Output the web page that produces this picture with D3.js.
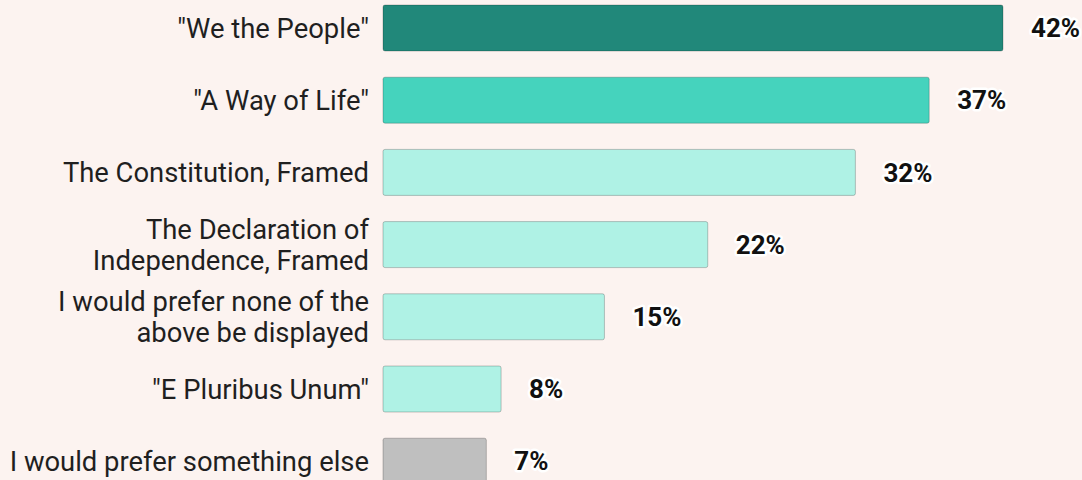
<!DOCTYPE html>
<html>
<head>
<meta charset="utf-8">
<script src="https://cdn.jsdelivr.net/npm/d3@7"></script>
<style>
  html, body { margin: 0; padding: 0; background: #fcf3f0; }
  svg { display: block; font-family: Roboto, sans-serif; }
  .label { fill: #1f1f1f; font-size: 27.4px; }
  .value { fill: #111; font-size: 26px; font-weight: bold; stroke: #fff; stroke-width: 5px; paint-order: stroke; stroke-linejoin: round; }
</style>
</head>
<body>
<svg width="1082" height="480"></svg>
<script>
const CATEGORIES = [
  ['"We the People"'],
  ['"A Way of Life"'],
  ['The Constitution, Framed'],
  ['The Declaration of', 'Independence, Framed'],
  ['I would prefer none of the', 'above be displayed'],
  ['"E Pluribus Unum"'],
  ['I would prefer something else']
]
const VALUES = [42, 37, 32, 22, 15, 8, 7]
const COLORS = ['#21887a', '#45d3bd', '#aff2e5', '#aff2e5', '#aff2e5', '#aff2e5', '#bfbfbf']

const svg = d3.select('svg')
const barH = 46
const x = d3.scaleLinear().domain([0, 42]).range([383, 1003])
const y = d3.scalePoint()
  .domain(d3.range(VALUES.length))
  .range([5, 5 + 72.2 * (VALUES.length - 1)])

const rows = svg.selectAll('g.row')
  .data(VALUES.map((v, i) => ({ v, i })))
  .enter().append('g')
  .attr('class', 'row')

rows.append('rect')
  .attr('x', x(0))
  .attr('y', d => y(d.i))
  .attr('width', d => x(d.v) - x(0))
  .attr('height', barH)
  .attr('rx', 2)
  .attr('fill', d => COLORS[d.i])
  .attr('stroke', 'rgba(0,0,0,0.22)')
  .attr('stroke-width', 1)

rows.append('text')
  .attr('class', 'value')
  .attr('x', d => x(d.v) + 28)
  .attr('y', d => y(d.i) + barH / 2)
  .attr('dy', '0.35em')
  .text(d => d.v + '%')

rows.append('text')
  .attr('class', 'label')
  .attr('text-anchor', 'end')
  .attr('x', 369)
  .attr('y', d => y(d.i) + barH / 2)
  .each(function (d) {
    const lines = CATEGORIES[d.i]
    const t = d3.select(this)
    lines.forEach((line, k) => {
      t.append('tspan')
        .attr('x', 369)
        .attr('dy', k === 0 ? (0.35 - (lines.length - 1) * 0.57) + 'em' : '1.14em')
        .text(line)
    })
  })
</script>
</body>
</html>
